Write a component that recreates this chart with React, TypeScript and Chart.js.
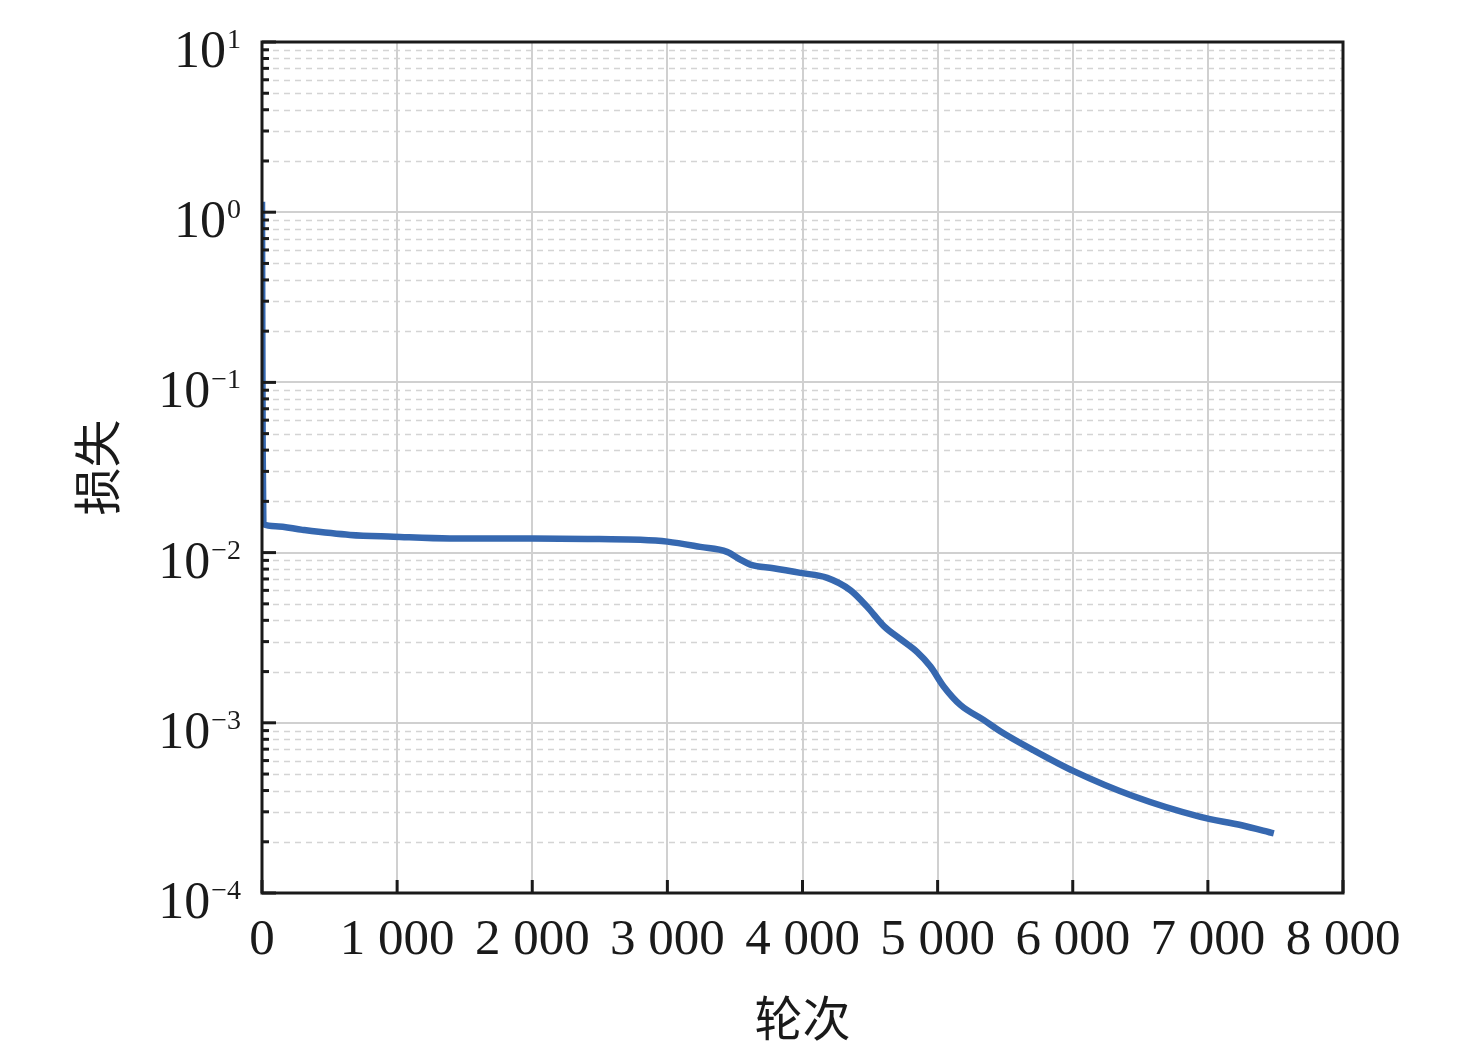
import React, { useEffect, useRef } from "react";
import { Chart, registerables } from "chart.js";

Chart.register(...registerables);

const epochs = [0, 2, 5, 10, 100, 300, 652, 972, 1391, 2000, 2495, 2800, 3000, 3244, 3441, 3540, 3614, 3785, 3985, 4183, 4356, 4479, 4602, 4725, 4849, 4947, 5046, 5170, 5340, 5466, 5710, 6007, 6451, 6945, 7250, 7488];
const loss = [1.15, 0.25, 0.04, 0.0147, 0.0143, 0.0136, 0.0127, 0.0124, 0.0121, 0.0121, 0.0120, 0.0119, 0.0116, 0.0108, 0.0101, 0.0091, 0.0085, 0.0081, 0.0076, 0.0071, 0.0060, 0.0048, 0.0037, 0.0031, 0.0026, 0.00214, 0.00163, 0.00127, 0.00104, 0.00089, 0.00069, 0.00052, 0.00037, 0.00028, 0.00025, 0.000224];

const xTicks = [0, 1000, 2000, 3000, 4000, 5000, 6000, 7000, 8000];
const xTickLabels = ["0", "1 000", "2 000", "3 000", "4 000", "5 000", "6 000", "7 000", "8 000"];
const yDecades = [1e-4, 1e-3, 1e-2, 1e-1, 1, 10];
const yExponents = ["\u22124", "\u22123", "\u22122", "\u22121", "0", "1"];
const yMinorFactors = [2, 3, 4, 5, 6, 7, 8, 9];
const xTitle = "轮次";
const yTitle = "损失";

const SERIF = '"Liberation Serif", "DejaVu Serif", serif';
const CJK = '"Noto Sans CJK SC", sans-serif';

const framePlugin = {
  id: "frame",
  beforeDatasetsDraw(chart: any) {
    const { ctx, chartArea: a, scales } = chart;
    const xs = scales.x;
    const ys = scales.y;
    ctx.save();
    ctx.strokeStyle = "#d4d4d4";
    ctx.lineWidth = 1.5;
    ctx.setLineDash([6, 5]);
    for (let d = 0; d < yDecades.length - 1; d++) {
      for (const f of yMinorFactors) {
        const y = Math.round(ys.getPixelForValue(yDecades[d] * f)) + 0.5;
        ctx.beginPath();
        ctx.moveTo(a.left, y);
        ctx.lineTo(a.right, y);
        ctx.stroke();
      }
    }
    ctx.setLineDash([]);
    ctx.strokeStyle = "#d0d0d0";
    ctx.lineWidth = 2;
    for (const v of yDecades) {
      const y = Math.round(ys.getPixelForValue(v));
      ctx.beginPath();
      ctx.moveTo(a.left, y);
      ctx.lineTo(a.right, y);
      ctx.stroke();
    }
    for (const v of xTicks) {
      const x = Math.round(xs.getPixelForValue(v));
      ctx.beginPath();
      ctx.moveTo(x, a.top);
      ctx.lineTo(x, a.bottom);
      ctx.stroke();
    }
    ctx.restore();
  },
  afterDatasetsDraw(chart: any) {
    const { ctx, chartArea: a, scales } = chart;
    const xs = scales.x;
    const ys = scales.y;
    ctx.save();
    ctx.strokeStyle = "#1a1a1a";
    ctx.lineWidth = 3;
    for (let d = 0; d < yDecades.length - 1; d++) {
      for (const f of yMinorFactors) {
        const y = ys.getPixelForValue(yDecades[d] * f);
        ctx.beginPath();
        ctx.moveTo(a.left, y);
        ctx.lineTo(a.left + 7, y);
        ctx.stroke();
      }
    }
    for (const v of yDecades) {
      const y = ys.getPixelForValue(v);
      ctx.beginPath();
      ctx.moveTo(a.left, y);
      ctx.lineTo(a.left + 14, y);
      ctx.stroke();
    }
    for (const v of xTicks) {
      const x = xs.getPixelForValue(v);
      ctx.beginPath();
      ctx.moveTo(x, a.bottom);
      ctx.lineTo(x, a.bottom - 13);
      ctx.stroke();
    }
    ctx.lineWidth = 3;
    ctx.strokeRect(a.left, a.top, a.right - a.left, a.bottom - a.top);

    // y labels: "10" with superscript exponent
    ctx.fillStyle = "#1a1a1a";
    ctx.textBaseline = "alphabetic";
    ctx.textAlign = "right";
    for (let i = 0; i < yDecades.length; i++) {
      const y = ys.getPixelForValue(yDecades[i]);
      const base = y + 25;
      const right = a.left - 21;
      ctx.font = `28px ${SERIF}`;
      const supW = ctx.measureText(yExponents[i]).width;
      ctx.fillText(yExponents[i], right, base - 19);
      ctx.font = `52px ${SERIF}`;
      ctx.fillText("10", right - supW - 1, base);
    }
    // x labels
    ctx.font = `51px ${SERIF}`;
    ctx.textAlign = "center";
    ctx.textBaseline = "alphabetic";
    for (let i = 0; i < xTicks.length; i++) {
      const x = xs.getPixelForValue(xTicks[i]);
      ctx.fillText(xTickLabels[i], x, a.bottom + 61);
    }
    // titles
    ctx.textBaseline = "middle";
    ctx.font = `48px ${CJK}`;
    ctx.fillText(xTitle, (a.left + a.right) / 2, a.bottom + 125);
    ctx.save();
    ctx.translate(a.left - 165, (a.top + a.bottom) / 2);
    ctx.rotate(-Math.PI / 2);
    ctx.fillText(yTitle, 0, 0);
    ctx.restore();
    ctx.restore();
  },
};

export default function App() {
  const ref = useRef<HTMLCanvasElement | null>(null);
  useEffect(() => {
    if (!ref.current) return;
    const chart = new Chart(ref.current, {
      type: "line",
      data: {
        datasets: [
          {
            data: epochs.map((e, i) => ({ x: e, y: loss[i] })),
            borderColor: "#3668b0",
            borderWidth: 6.5,
            pointRadius: 0,
            cubicInterpolationMode: "monotone",
            fill: false,
          },
        ],
      },
      options: {
        animation: false,
        responsive: false,
        devicePixelRatio: 1,
        layout: { padding: { left: 0, top: 42, right: 133, bottom: 0 } },
        plugins: { legend: { display: false }, tooltip: { enabled: false } },
        scales: {
          x: {
            type: "linear",
            min: 0,
            max: 8000,
            grid: { display: false },
            border: { display: false },
            ticks: { display: false },
            afterFit: (s: any) => {
              s.height = 1051 - 893;
            },
          },
          y: {
            type: "logarithmic",
            min: 1e-4,
            max: 10,
            grid: { display: false },
            border: { display: false },
            ticks: { display: false },
            afterFit: (s: any) => {
              s.width = 262;
            },
          },
        },
      },
      plugins: [framePlugin],
    } as any);
    return () => chart.destroy();
  }, []);
  return (
    <div style={{ position: "fixed", left: 0, top: 0, width: 1476, height: 1051, background: "#fff" }}>
      <canvas ref={ref} width={1476} height={1051} style={{ width: 1476, height: 1051, display: "block" }} />
    </div>
  );
}
